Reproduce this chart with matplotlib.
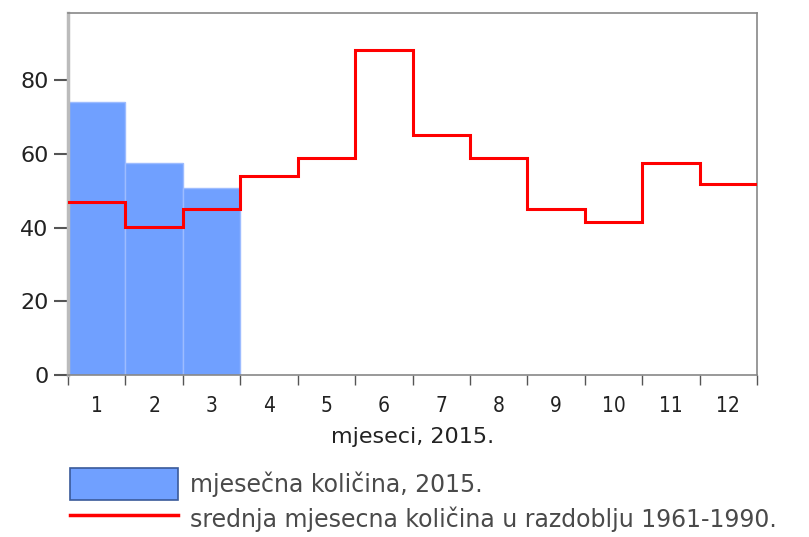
import numpy as np
import matplotlib.pyplot as plt
from matplotlib.patches import Patch
from matplotlib.lines import Line2D

plt.rcParams['font.family'] = ['DejaVu Sans']

months = [1, 2, 3, 4, 5, 6, 7, 8, 9, 10, 11, 12]
rain_2015 = [74.0, 57.5, 50.7]
mean_1961_1990 = [46.9, 40.1, 45.0, 54.0, 58.8, 88.1, 65.1, 58.8, 45.0, 41.5, 57.5, 51.8]

bar_color = '#70a0ff'
line_color = '#ff0000'

fig = plt.figure(figsize=(8.09, 5.37), dpi=100)
ax = fig.add_axes([68 / 809, 1 - 375 / 537, (757 - 68) / 809, (375 - 13) / 537])

edges = np.arange(0.5, 13.5, 1)
ax.bar(months[:len(rain_2015)], rain_2015, width=1.0, color=bar_color,
       edgecolor='#9dbcff', linewidth=1, zorder=1)

# step line over each month
xs = np.repeat(edges, 2)[1:-1]
ys = np.repeat(mean_1961_1990, 2)
ax.plot(xs, ys, color=line_color, linewidth=2.2, zorder=3, solid_joinstyle='miter')

ax.set_xlim(0.5, 12.5)
ax.set_ylim(0, 98.2)
ax.set_yticks([0, 20, 40, 60, 80])
ax.set_xticks(edges)
ax.set_xticklabels([])
ax.set_xticks(months, minor=True)
ax.set_xticklabels([str(m) for m in months], minor=True, fontstretch='condensed')
ax.tick_params(axis='x', which='major', direction='out', length=7, color='#555555', width=1)
ax.tick_params(axis='x', which='minor', length=0, labelsize=15, pad=15, labelcolor='#222222')
ax.tick_params(axis='y', direction='out', length=10, width=1.5, color='#555555',
               labelsize=16, labelcolor='#222222', pad=4)

for s in ['top', 'right', 'bottom']:
    ax.spines[s].set_color('#888888')
    ax.spines[s].set_linewidth(1.2)
ax.spines['left'].set_color('#bbbbbb')
ax.spines['left'].set_linewidth(2.5)

ax.set_xlabel('mjeseci, 2015.', fontsize=16, color='#222222', labelpad=8)

handles = [Patch(facecolor=bar_color, edgecolor='#3a5a9a', linewidth=1.2),
           Line2D([], [], color=line_color, linewidth=2.5)]
labels = ['mjesečna količina, 2015.', 'srednja mjesecna količina u razdoblju 1961-1990.']
fig.legend(handles, labels, loc='upper left', bbox_to_anchor=(70 / 809, 1 - 468 / 537),
           frameon=False, fontsize=17, handlelength=4.58, handleheight=1.7,
           handletextpad=0.5, labelspacing=0.15, borderaxespad=0, borderpad=0,
           labelcolor='#4a4a4a')

fig.savefig('out.png', dpi=100)
